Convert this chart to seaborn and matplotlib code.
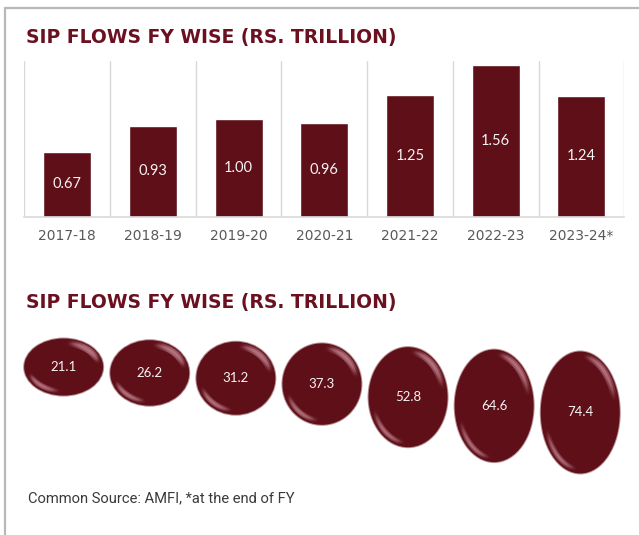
import numpy as np
import pandas as pd
import matplotlib
matplotlib.use("Agg")
import matplotlib.pyplot as plt
from matplotlib.patches import Ellipse
from matplotlib.lines import Line2D
from matplotlib.collections import LineCollection
from matplotlib.colors import to_rgba
import seaborn as sns

# SIP flows per financial year (Rs. trillion)
fiscal_years = ["2017-18", "2018-19", "2019-20", "2020-21", "2021-22", "2022-23", "2023-24*"]
sip_flows = [0.67, 0.93, 1.00, 0.96, 1.25, 1.56, 1.24]

# values shown in the bubble row
bubble_values = [21.1, 26.2, 31.2, 37.3, 52.8, 64.6, 74.4]

title_text = "SIP FLOWS FY WISE (RS. TRILLION)"
source_text = "Common Source: AMFI, *at the end of FY"

MAROON = "#5f0f18"
TITLE_RED = "#6a1020"
GRID = "#d9d9d9"
TICK_GREY = "#595959"
FRAME = "#b8b8b8"
GLOSS = "#b47480"

W, H = 639, 535
sns.set_style("white")
plt.rcParams["font.family"] = ["DejaVu Sans"]

fig = plt.figure(figsize=(W / 100, H / 100), dpi=100)
fig.patch.set_facecolor("white")


def px_box(x0, y0, x1, y1):
    """Axes rectangle from pixel corners (origin top-left)."""
    return [x0 / W, 1 - y1 / H, (x1 - x0) / W, (y1 - y0) / H]


# panel frame (top and left edges)
fig.add_artist(Line2D([5 / W, 5 / W], [0, 1 - 7.5 / H], color=FRAME, lw=1.6))
fig.add_artist(Line2D([5 / W, 1], [1 - 7.5 / H, 1 - 7.5 / H], color=FRAME, lw=1.6))

# ---- bar chart ----
ax = fig.add_axes(px_box(24.3, 61, 624.3, 216.7))
df = pd.DataFrame({"year": fiscal_years, "flow": sip_flows})
sns.barplot(data=df, x="year", y="flow", color=MAROON, saturation=1,
            width=0.56, ax=ax)
ax.bar_label(ax.containers[0], fmt="{:.2f}", label_type="center",
             color="#f4f4f4", fontsize=10.5, family=["Lato", "DejaVu Sans"])
ax.set_ylim(0, 1.6)
ax.set_xlim(-0.5, 6.5)
ax.set_xlabel("")
ax.set_ylabel("")
ax.set_yticks([])
ax.set_xticks(np.arange(-0.5, 7, 1), minor=True)
ax.grid(which="major", visible=False)
ax.grid(which="minor", axis="x", color=GRID, lw=1)
ax.set_axisbelow(True)
ax.tick_params(axis="x", which="both", length=0, pad=9, labelsize=10,
               labelcolor=TICK_GREY)
for s in ["top", "left", "right"]:
    ax.spines[s].set_visible(False)
ax.spines["bottom"].set_color(GRID)
ax.spines["bottom"].set_linewidth(1.2)

# ---- bubble row ----
ax2 = fig.add_axes(px_box(20.6, 325, 623.3, 490))
AX2_H = 165
ax2.set_xlim(-0.5, 6.5)
ax2.set_ylim(0, AX2_H)
ax2.axis("off")
x_unit = (623.3 - 20.6) / 7  # pixels per category


def gloss_arc(cx, cy, a, b, t0, t1, lw, peak):
    """Light streak along an ellipse, fading out at both ends."""
    t = np.radians(np.linspace(t0, t1, 40))
    xs = cx + a * np.cos(t)
    ys = cy + b * np.sin(t)
    pts = np.column_stack([xs, ys]).reshape(-1, 1, 2)
    segs = np.concatenate([pts[:-1], pts[1:]], axis=1)
    s = np.linspace(0, 1, len(segs))
    alphas = peak * np.sin(np.pi * s) ** 1.5
    cols = [to_rgba(GLOSS, al) for al in alphas]
    ax2.add_collection(LineCollection(segs, colors=cols, linewidths=lw,
                                      capstyle="round"))


for i, v in enumerate(bubble_values):
    h = -16.9 + 16.1 * np.sqrt(v)
    w = 79 / x_unit
    cy = AX2_H - (42 + 0.7 * (h - 57))
    # slightly blurred rim
    ax2.add_patch(Ellipse((i, cy), w + 2 / x_unit, h + 2,
                          facecolor=MAROON, alpha=0.45, lw=0))
    ax2.add_patch(Ellipse((i, cy), w, h, facecolor=MAROON, lw=0))
    # soft glossy highlights (wide faint pass + narrow brighter pass)
    a_in = (w / 2) - 4.5 / x_unit
    b_in = h / 2 - 4.5
    gloss_arc(i, cy, a_in, b_in, 10, 85, 5.0, 0.22)
    gloss_arc(i, cy, a_in, b_in, 10, 85, 2.0, 0.5)
    gloss_arc(i, cy, a_in, b_in, 195, 265, 4.0, 0.18)
    gloss_arc(i, cy, a_in, b_in, 195, 265, 1.8, 0.4)
    ax2.text(i, cy, f"{v:.1f}", ha="center", va="center", color="#f4f4f4",
             fontsize=9.5, family=["Lato", "DejaVu Sans"])

# ---- titles and source ----
for base_y in (43.3, 307.7):
    fig.text(25.5 / W, 1 - base_y / H, title_text, color=TITLE_RED,
             fontsize=13.5, fontweight="bold", va="baseline", ha="left")

fig.text(28 / W, 1 - 502.7 / H, source_text, color="#3a3a3a", fontsize=10.6,
         family=["Roboto", "DejaVu Sans"], va="baseline", ha="left")

fig.savefig("out.png", dpi=100, facecolor="white")
